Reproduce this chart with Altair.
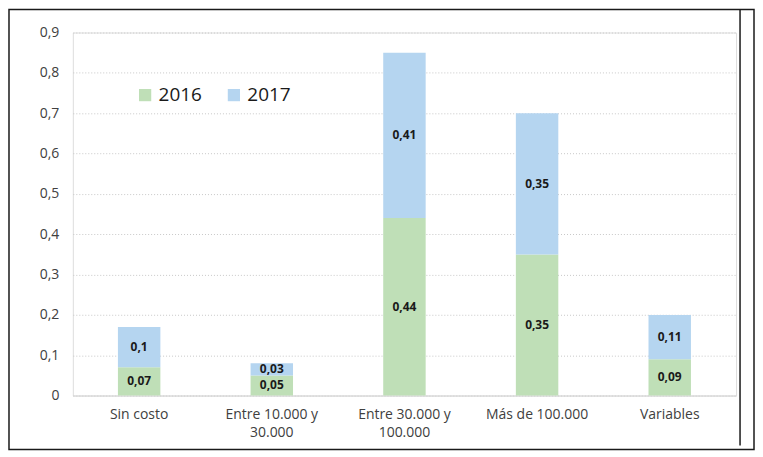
import altair as alt
import pandas as pd

categories = ["Sin costo", "Entre 10.000 y\n30.000", "Entre 30.000 y\n100.000", "Más de 100.000", "Variables"]
years = ["2016", "2017"]
values_2016 = [0.07, 0.05, 0.44, 0.35, 0.09]
values_2017 = [0.10, 0.03, 0.41, 0.35, 0.11]
y_ticks = [0, 0.1, 0.2, 0.3, 0.4, 0.5, 0.6, 0.7, 0.8, 0.9]
colors = ["#bfdfb7", "#b5d5f0"]

rows = []
for i, c in enumerate(categories):
    rows.append({"cat": c, "year": "2016", "value": values_2016[i], "order": 0})
    rows.append({"cat": c, "year": "2017", "value": values_2017[i], "order": 1})
df = pd.DataFrame(rows)

FONT = "Open Sans"

base = alt.Chart(df).transform_stack(
    stack="value", groupby=["cat"], as_=["y0", "y1"], sort=[alt.SortField("order")]
).transform_calculate(
    mid="(datum.y0 + datum.y1) / 2",
    lab="replace(format(datum.value, '.2~f'), '.', ',')",
)

xenc = alt.X(
    "cat:N",
    sort=categories,
    scale=alt.Scale(paddingInner=0.68, paddingOuter=0.34),
    axis=alt.Axis(
        title=None, labelAngle=0, ticks=False, domainColor="#d9d9d9", domainWidth=1,
        labelPadding=12, labelFontSize=14, labelColor="#404040", labelLineHeight=18,
        labelExpr="split(datum.label, '\\n')", labelFont=FONT,
    ),
)

bars = base.mark_bar().encode(
    x=xenc,
    y=alt.Y(
        "y0:Q",
        scale=alt.Scale(domain=[0, 0.9]),
        axis=alt.Axis(
            title=None, values=y_ticks, domain=False, ticks=False, grid=True,
            gridDash=[1, 2], gridColor="#c8c8c8", labelPadding=14, labelFontSize=14,
            labelColor="#404040", labelFont=FONT,
            labelExpr="replace(format(datum.value, '.1~f'), '.', ',')",
        ),
    ),
    y2="y1:Q",
    color=alt.Color(
        "year:N",
        scale=alt.Scale(domain=years, range=colors),
        legend=alt.Legend(
            title=None, orient="none", legendX=63, legendY=53, direction="horizontal",
            symbolType="square", symbolSize=150, symbolStrokeWidth=0, labelFontSize=19,
            labelColor="#1a1a1a", columnPadding=22, labelOffset=4, labelFont=FONT,
        ),
    ),
)

texts = base.mark_text(fontWeight="bold", fontSize=12, color="#1a1a1a", font=FONT).encode(
    x=alt.X("cat:N", sort=categories),
    y=alt.Y("mid:Q"),
    text="lab:N",
)

frame_df = pd.DataFrame({"k": [0]})
border = alt.Chart(frame_df).mark_rect(fillOpacity=0, stroke="#1a1a1a", strokeWidth=1.5).encode(
    x=alt.value(-64), x2=alt.value(683), y=alt.value(-23), y2=alt.value(418)
)
vline = alt.Chart(frame_df).mark_rule(color="#1a1a1a", strokeWidth=1.5).encode(
    x=alt.value(669), y=alt.value(-23), y2=alt.value(414)
)

chart = alt.layer(bars, texts, border, vline).properties(
    width=665, height=364, padding=0
).configure_view(stroke=None).configure(font=FONT)

chart.save("out.html", embed_options={"renderer": "svg", "actions": False})
